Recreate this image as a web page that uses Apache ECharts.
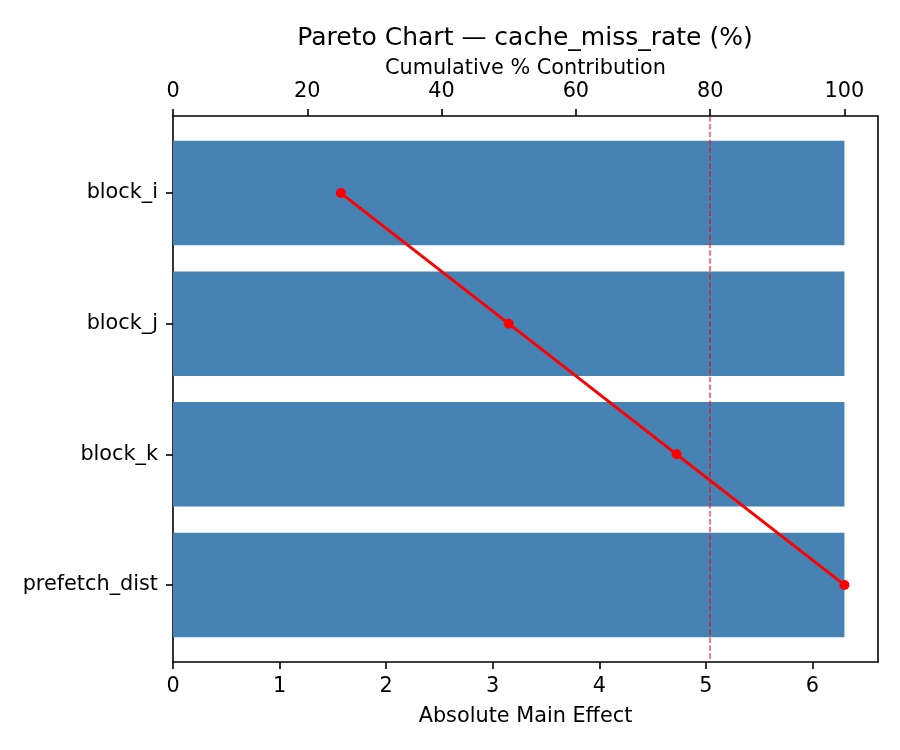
<!DOCTYPE html>
<html>
<head>
<meta charset="utf-8">
<script src="https://cdn.jsdelivr.net/npm/echarts@6/dist/echarts.min.js"></script>
<style>html,body{margin:0;padding:0;background:#fff}#chart{width:900px;height:750px}</style>
</head>
<body>
<div id="chart"></div>
<script>
const categories = ['block_i', 'block_j', 'block_k', 'prefetch_dist'];
const effects = [6.3, 6.3, 6.3, 6.3];
const cumulativePct = [25, 50, 75, 100];
const effectTicks = [0, 1, 2, 3, 4, 5, 6];
const pctTicks = [0, 20, 40, 60, 80, 100];
const thresholdPct = 80;

const FONT = 'DejaVu Sans';
const FS = 20.8;
const chart = echarts.init(document.getElementById('chart'));

const barData = effects.map((v, i) => [v, i]);
const lineData = cumulativePct.map((v, i) => [v, i]);
const maxEffect = Math.max(...effects) * 1.05;

const axisCommon = {
  axisLine: { show: true, onZero: false, lineStyle: { color: '#000', width: 1.6 } },
  axisTick: { show: true, length: 7, lineStyle: { color: '#000', width: 1.6 } },
  axisLabel: { color: '#000', fontFamily: FONT, fontSize: FS, margin: 14 },
  splitLine: { show: false },
  nameMoveOverlap: false,
  nameTextStyle: { color: '#000', fontFamily: FONT, fontSize: FS }
};

chart.setOption({
  animation: false,
  backgroundColor: '#fff',
  title: {
    text: 'Pareto Chart — cache_miss_rate (%)',
    left: 520,
    top: 21,
    textAlign: 'center',
    textStyle: { color: '#000', fontFamily: FONT, fontSize: 25, fontWeight: 'normal' }
  },
  grid: { left: 173, right: 22, top: 116, bottom: 88, containLabel: false },
  xAxis: [
    Object.assign({}, axisCommon, {
      type: 'value', position: 'bottom', min: 0, max: maxEffect,
      name: 'Absolute Main Effect', nameLocation: 'middle', nameGap: 44,
      axisTick: Object.assign({}, axisCommon.axisTick, { customValues: effectTicks }),
      axisLabel: Object.assign({}, axisCommon.axisLabel, { customValues: effectTicks })
    }),
    Object.assign({}, axisCommon, {
      type: 'value', position: 'top', min: 0, max: 105,
      name: 'Cumulative % Contribution', nameLocation: 'middle', nameGap: 37,
      axisTick: Object.assign({}, axisCommon.axisTick, { customValues: pctTicks }),
      axisLabel: Object.assign({}, axisCommon.axisLabel, { customValues: pctTicks })
    })
  ],
  yAxis: [
    Object.assign({}, axisCommon, {
      type: 'value', position: 'left', min: -0.59, max: categories.length - 1 + 0.59, inverse: true,
      axisTick: Object.assign({}, axisCommon.axisTick, { customValues: categories.map((c, i) => i) }),
      axisLabel: Object.assign({}, axisCommon.axisLabel, {
        margin: 15,
        customValues: categories.map((c, i) => i),
        formatter: v => categories[Math.round(v)] || ''
      })
    }),
    {
      type: 'value', position: 'right', min: -0.59, max: categories.length - 1 + 0.59, inverse: true,
      axisLine: { show: true, onZero: false, lineStyle: { color: '#000', width: 1.6 } },
      axisTick: { show: false }, axisLabel: { show: false }, splitLine: { show: false }
    }
  ],
  series: [
    {
      type: 'custom',
      xAxisIndex: 0, yAxisIndex: 0,
      data: barData,
      encode: { x: 0, y: 1 },
      renderItem: function (params, api) {
        const v = api.value(0), idx = api.value(1);
        const p0 = api.coord([0, idx]);
        const p1 = api.coord([v, idx]);
        const h = Math.abs(api.size([0, 0.8])[1]);
        return {
          type: 'rect',
          shape: { x: p0[0], y: p0[1] - h / 2, width: p1[0] - p0[0], height: h },
          style: { fill: '#4682B4' }
        };
      },
      z: 1
    },
    {
      type: 'line',
      xAxisIndex: 1, yAxisIndex: 0,
      data: lineData,
      symbol: 'circle', symbolSize: 10,
      lineStyle: { color: '#ff0000', width: 3 },
      itemStyle: { color: '#ff0000' },
      z: 3,
      markLine: {
        silent: true, symbol: 'none', label: { show: false },
        lineStyle: { color: 'rgba(255,0,0,0.7)', type: [5.5, 2.4], width: 1.5 },
        data: [{ xAxis: thresholdPct }],
        z: 2
      }
    }
  ]
});
</script>
</body>
</html>
